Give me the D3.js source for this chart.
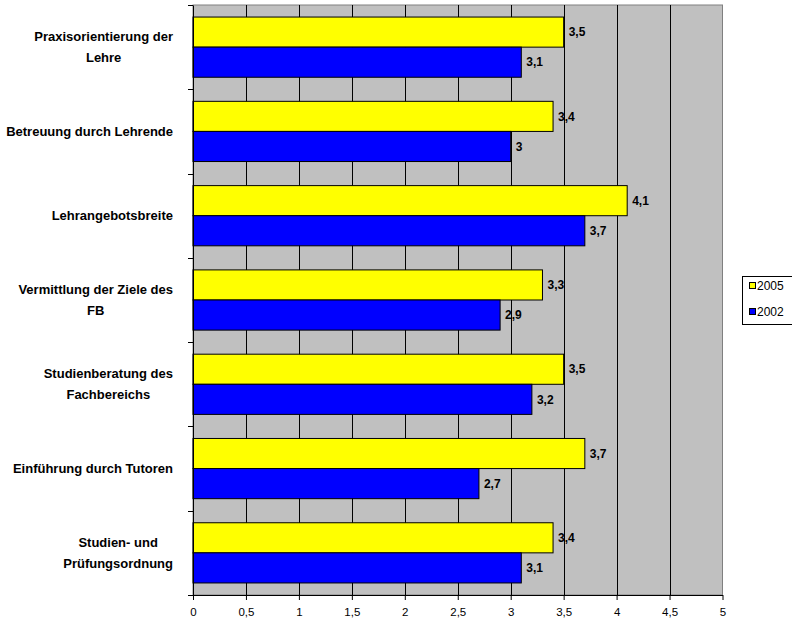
<!DOCTYPE html>
<html><head><meta charset="utf-8">
<script src="https://cdn.jsdelivr.net/npm/d3@7"></script>
<style>body{margin:0;background:#fff}svg{display:block;font-family:"Liberation Sans",Arial,sans-serif}</style>
</head><body>
<svg id="c" width="792" height="621"></svg>
<script>
const categories = [["Praxisorientierung der","Lehre"],["Betreuung durch Lehrende"],["Lehrangebotsbreite"],["Vermittlung der Ziele des","FB"],["Studienberatung des","Fachbereichs"],["Einführung durch Tutoren"],["Studien- und","Prüfungsordnung"]];
const seriesNames = ["2005","2002"];
const values2005 = [3.5,3.4,4.1,3.3,3.5,3.7,3.4];
const values2002 = [3.1,3,3.7,2.9,3.2,2.7,3.1];
const xTicks = [0,0.5,1,1.5,2,2.5,3,3.5,4,4.5,5];
const colors = ["#FFFF00","#0000FF"];
const FF = "'Liberation Sans', Arial, sans-serif";

const svg = d3.select("#c");
const L=193, R=722.5, T=5, B=595;
const x = d3.scaleLinear().domain([0,5]).range([L,R]);
const y = d3.scaleBand().domain(d3.range(categories.length)).range([T,B]).paddingInner(0).paddingOuter(0);
const sub = d3.scaleBand().domain([0,1]).range([0,y.bandwidth()]).paddingInner(0).paddingOuter(0.4);

svg.append("rect").attr("x",L).attr("y",T).attr("width",R-L).attr("height",B-T).attr("fill","#C0C0C0").attr("stroke","#808080");

svg.append("g").selectAll("line").data(xTicks.slice(1,-1)).join("line")
  .attr("x1",d=>Math.round(x(d))+0.5).attr("x2",d=>Math.round(x(d))+0.5).attr("y1",T).attr("y2",B)
  .attr("stroke","#000").attr("stroke-width",1);

const fmt = v => String(v).replace(".",",");
const series = [values2005, values2002];
series.forEach((vals,si)=>{
  const g = svg.append("g");
  g.selectAll("rect").data(vals).join("rect")
    .attr("x",x(0)).attr("y",(d,i)=>y(i)+sub(si)).attr("width",d=>x(d)-x(0)).attr("height",sub.bandwidth())
    .attr("fill",colors[si]).attr("stroke","#000").attr("stroke-width",1);
  g.selectAll("text").data(vals).join("text")
    .attr("x",d=>x(d)+5).attr("y",(d,i)=>y(i)+sub(si)+sub.bandwidth()/2).attr("dy","0.35em")
    .attr("font-size",12).attr("font-weight","bold").attr("font-family",FF).attr("fill","#000").text(d=>fmt(d));
});

const xa = svg.append("g").attr("transform",`translate(0,${B})`).call(d3.axisBottom(x).tickValues(xTicks).tickFormat(fmt).tickSize(5).tickSizeOuter(0));
xa.select(".domain").attr("stroke","#000");
xa.selectAll("line").attr("stroke","#000");
xa.selectAll("text").attr("font-size",11.5).attr("font-family",FF).attr("fill","#000").attr("y",13).attr("dy","0.71em");

const ya = svg.append("g").attr("transform",`translate(${L},0)`)
  .call(d3.axisLeft(y).tickValues([]).tickSizeOuter(0));
ya.select(".domain").attr("stroke","#000");
svg.append("g").selectAll("line").data(d3.range(categories.length+1)).join("line")
  .attr("x1",L-5).attr("x2",L).attr("y1",d=>Math.round(T+d*y.step())+0.5).attr("y2",d=>Math.round(T+d*y.step())+0.5).attr("stroke","#000");

categories.forEach((lines,i)=>{
  const g = svg.append("g");
  const cy = y(i)+y.bandwidth()/2;
  const lh = 21;
  const ts = lines.map((l,k)=>g.append("text").attr("font-size",13).attr("font-weight","bold").attr("font-family",FF).attr("text-anchor","middle")
     .attr("y",cy+(k-(lines.length-1)/2)*lh).attr("dy","0.35em").text(l));
  const w = d3.max(ts,t=>t.node().getComputedTextLength());
  ts.forEach(t=>t.attr("x",173-w/2));
});

const lg = svg.append("g");
lg.append("rect").attr("x",742.5).attr("y",276.5).attr("width",60).attr("height",48).attr("fill","#fff").attr("stroke","#000");
seriesNames.forEach((n,i)=>{
  const yy = 286 + i*26;
  lg.append("rect").attr("x",749.5).attr("y",yy-3.5).attr("width",6).attr("height",6).attr("fill",colors[i]).attr("stroke","#000");
  lg.append("text").attr("x",757).attr("y",yy).attr("dy","0.35em").attr("font-size",12).attr("font-family",FF).text(n);
});
</script>
</body></html>
